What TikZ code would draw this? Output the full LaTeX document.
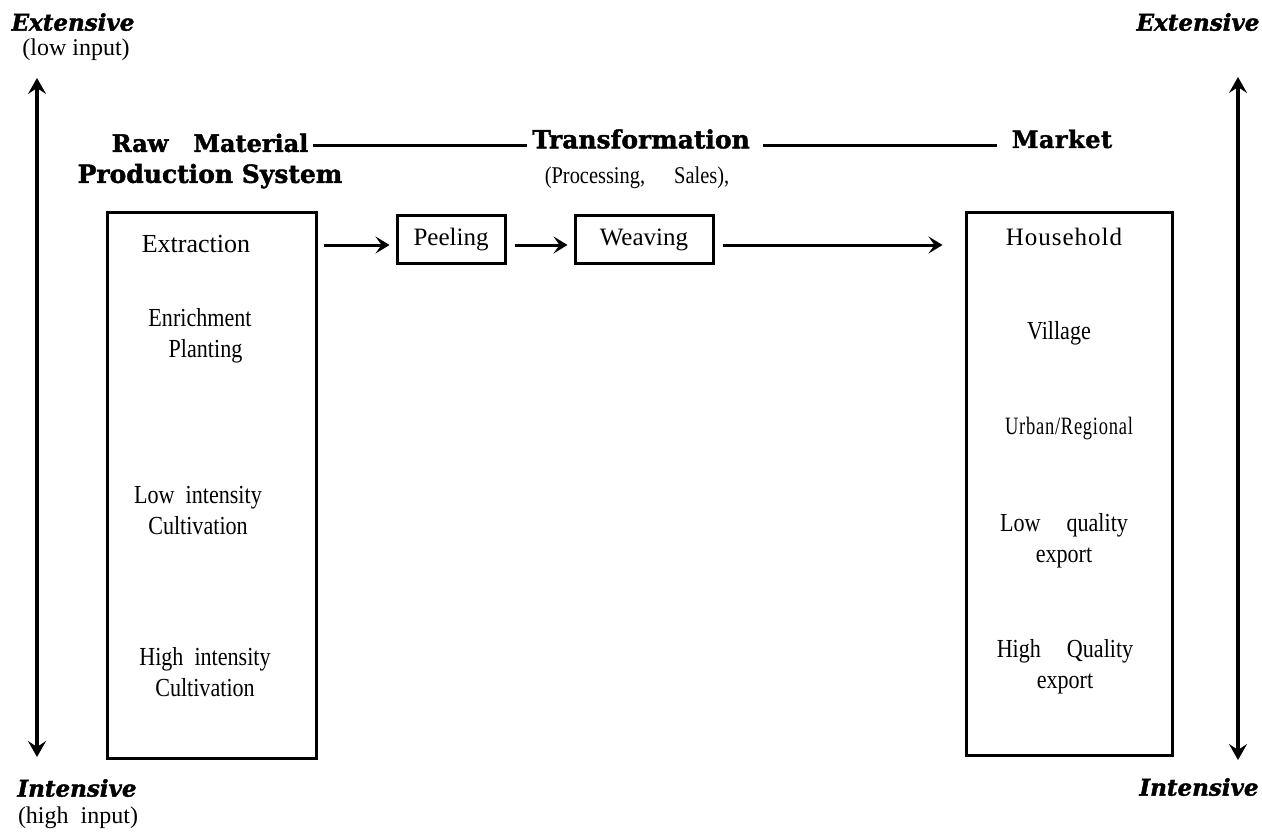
\documentclass[tikz,border=0pt]{standalone}
\usepackage{fontspec}
\setmainfont{Liberation Serif}
\newfontfamily\cond[FakeStretch=0.85]{Liberation Serif}
\newfontfamily\narrow[FakeStretch=0.74]{Liberation Serif}
\newfontfamily\slab[BoldFeatures={FakeBold=1.6}, BoldItalicFeatures={FakeBold=1.6}]{DejaVu Serif}
\usetikzlibrary{arrows.meta}
\tikzset{
  body/.style={font=\cond\fontsize{26}{31}\selectfont, align=center, inner sep=0pt},
  plain/.style={font=\fontsize{26}{31}\selectfont, align=center, inner sep=0pt},
  small/.style={font=\fontsize{24}{28}\selectfont, inner sep=0pt},
  head/.style={font=\slab\bfseries\fontsize{25}{31}\selectfont, align=center, inner sep=0pt},
  pole/.style={font=\slab\bfseries\itshape\fontsize{23}{26}\selectfont, inner sep=0pt},
  frame/.style={draw, line width=3pt, inner sep=0pt},
  harr/.style={line width=3pt, -{Stealth[length=14pt,width=17pt,inset=6pt]}},
  varr/.style={line width=4.5pt, {Stealth[length=16pt,width=18pt,inset=6pt]}-{Stealth[length=16pt,width=18pt,inset=6pt]}},
  hline/.style={line width=3pt}
}
\begin{document}
\begin{tikzpicture}[x=1pt,y=-1pt]
\useasboundingbox (0,0) rectangle (1262,832);

% poles
\node[pole] (ext1) at (73,22) {Extensive};
\node[small] (low) at (76,50) {(low input)};
\node[pole] (int1) at (77,788) {Intensive};
\node[small] (high) at (78,818) {(high~~input)};
\node[pole] (ext2) at (1198,22) {Extensive};
\node[pole] (int2) at (1199,787) {Intensive};

\coordinate (lt) at (37,78);
\coordinate (lb) at (37,757);
\coordinate (rt) at (1238,77);
\coordinate (rb) at (1238,760);
\draw[varr] (lb) -- (lt);
\draw[varr] (rb) -- (rt);

% headings
\node[head] (raw) at (210,161) {{\fontsize{24}{31}\selectfont Raw\ \ \ Material}\\Production System};
\node[head] (trans) at (641,139) {Transformation};
\node[font=\cond\fontsize{24}{28}\selectfont, inner sep=0pt] (proc) at (637,178) {(Processing,\quad\ Sales),};
\node[head, font=\slab\bfseries\fontsize{24}{30}\selectfont] (mkt) at (1062,139) {M\kern0.5pt a\kern0.5pt r\kern0.5pt k\kern0.5pt e\kern0.5pt t};

\coordinate (h1) at (313,146);
\coordinate (h2) at (527,146);
\coordinate (h3) at (763,146);
\coordinate (h4) at (997,146);
\draw[hline] (h1) -- (h2);
\draw[hline] (h3) -- (h4);

% boxes
\node[frame, minimum width=209pt, minimum height=545pt] (rms) at (211.5,485.5) {};
\node[frame, minimum width=206pt, minimum height=542pt] (mbox) at (1069,484) {};
\node[frame, minimum width=108pt, minimum height=48pt, font=\fontsize{25}{30}\selectfont] (peel) at (451,239.5) {Peeling};
\node[frame, minimum width=138pt, minimum height=48pt, font=\fontsize{25}{30}\selectfont] (weave) at (644,239.5) {Weaving};

% left box texts
\node[plain] (extr) at (196,244) {Extraction};
\node[body] (enr) at (200,336) {Enrichment\\\ \ Planting};
\node[body] (lowi) at (198,511) {Low\ \ intensity\\Cultivation};
\node[body] (highi) at (205,672) {High\ \ intensity\\Cultivation};

% right box texts
\node[plain, font=\fontsize{25}{30}\selectfont\addfontfeatures{LetterSpace=4}] (hh) at (1064,237) {Household};
\node[body] (vil) at (1059,333) {Village};
\node[font=\narrow\fontsize{25}{30}\selectfont\addfontfeatures{LetterSpace=3}, inner sep=0pt] (urb) at (1069,429) {Urban/Regional};
\node[body] (lq) at (1064,541) {Low\quad quality\\export};
\node[body] (hq) at (1065,667) {High\quad Quality\\export};

% arrows
\draw[harr] ([xshift=6pt,yshift=-5.5pt]rms.east |- peel.west) -- ([xshift=-6pt,yshift=-5.5pt]peel.west);
\draw[harr] ([xshift=8pt,yshift=-5.5pt]peel.east) -- ([xshift=-6pt,yshift=-5.5pt]weave.west);
\draw[harr] ([xshift=8pt,yshift=-5.5pt]weave.east) -- ([xshift=-22pt,yshift=-5.5pt]mbox.west |- weave.east);
\end{tikzpicture}
\end{document}
